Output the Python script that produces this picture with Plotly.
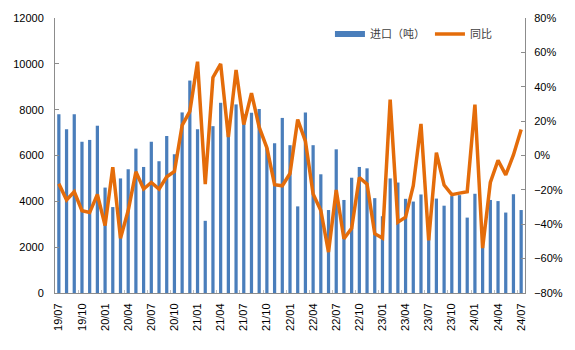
import plotly.graph_objects as go

months = [
    "19/07", "19/08", "19/09", "19/10", "19/11", "19/12",
    "20/01", "20/02", "20/03", "20/04", "20/05", "20/06",
    "20/07", "20/08", "20/09", "20/10", "20/11", "20/12",
    "21/01", "21/02", "21/03", "21/04", "21/05", "21/06",
    "21/07", "21/08", "21/09", "21/10", "21/11", "21/12",
    "22/01", "22/02", "22/03", "22/04", "22/05", "22/06",
    "22/07", "22/08", "22/09", "22/10", "22/11", "22/12",
    "23/01", "23/02", "23/03", "23/04", "23/05", "23/06",
    "23/07", "23/08", "23/09", "23/10", "23/11", "23/12",
    "24/01", "24/02", "24/03", "24/04", "24/05", "24/06",
    "24/07",
]

imports_t = [
    7800, 7150, 7800, 6600, 6680, 7300,
    4600, 3750, 5000, 5400, 6300, 5500,
    6600, 5750, 6850, 6050, 7880, 9270,
    7150, 3150, 7280, 8300, 6950, 8230,
    7800, 7870, 8030, 6320, 6540, 7640,
    6450, 3780, 7880, 6450, 5180, 3620,
    6270, 4060, 5030, 5500, 5440, 4140,
    3350, 5000, 4820, 4110, 3990, 4300,
    3150, 4120, 3810, 4230, 4270, 3290,
    4330, 2300, 4060, 4010, 3510, 4310,
    3620,
]

yoy_pct = [
    -16.5, -25.8, -21.1, -32.1, -33.2, -22.6,
    -40.8, -6.8, -48.2, -32.0, -9.5, -19.5,
    -15.7, -19.5, -12.4, -9.3, 17.5, 25.7,
    54.6, -16.7, 45.4, 53.3, 10.7, 49.8,
    18.0, 36.3, 16.5, 4.5, -17.0, -17.6,
    -10.5, 20.9, 8.4, -22.4, -32.0, -56.2,
    -20.1, -48.4, -42.3, -12.8, -16.7, -45.5,
    -48.0, 32.5, -38.8, -35.9, -17.6, 18.4,
    -49.4, 1.6, -17.2, -22.8, -21.9, -21.1,
    29.6, -53.9, -15.7, -2.8, -11.3, 0.3,
    15.1,
]

x_ticks = months[::3]
left_ticks = [0, 2000, 4000, 6000, 8000, 10000, 12000]

BLUE = "#4A7EBB"
ORANGE = "#E46C0A"
AXIS = "#8C8C8C"
FONT = "Liberation Sans, Arial, Noto Sans CJK SC, sans-serif"

fig = go.Figure()
fig.add_trace(go.Bar(
    x=months, y=imports_t, name="进口（吨）", showlegend=False,
    marker=dict(color=BLUE, line=dict(width=0)), width=0.42,
    yaxis="y",
))
# legend-only entry drawn as a wide thin bar key
fig.add_trace(go.Scatter(
    x=[None], y=[None], mode="lines", name="进口（吨）",
    line=dict(color=BLUE, width=6), yaxis="y",
))
fig.add_trace(go.Scatter(
    x=months, y=[v / 100 for v in yoy_pct], mode="lines", name="同比",
    line=dict(color=ORANGE, width=3.5), yaxis="y2",
))

fig.update_layout(
    width=575, height=350,
    margin=dict(l=55, r=49, t=16, b=57),
    paper_bgcolor="white", plot_bgcolor="white",
    font=dict(family=FONT, size=11, color="#000000"),
    showlegend=True,
    legend=dict(
        orientation="h", x=0.585, xanchor="left", y=0.942, yanchor="middle",
        font=dict(family=FONT, size=11, color="#404040"),
        bgcolor="rgba(0,0,0,0)", itemclick=False, traceorder="normal",
    ),
    xaxis=dict(
        type="category", range=[-0.5, len(months) - 0.5],
        tickmode="array", tickvals=x_ticks, ticktext=x_ticks,
        tickangle=-90, tickson="boundaries", ticks="inside", ticklen=3,
        tickcolor="#C0C0C0", showline=True, linecolor=AXIS, linewidth=1,
        showgrid=False, zeroline=False, tickfont=dict(size=11),
        ticklabelstandoff=5,
    ),
    yaxis=dict(
        range=[0, 12000], tickvals=left_ticks, tickformat="d",
        ticks="inside", ticklen=4,
        tickcolor=AXIS, showline=True, linecolor=AXIS, linewidth=1,
        showgrid=False, zeroline=False, tickfont=dict(size=11),
        ticklabelstandoff=8,
    ),
    yaxis2=dict(
        range=[-0.8, 0.8], dtick=0.2, tick0=-0.8, tickformat=".0%",
        overlaying="y", side="right", ticks="inside", ticklen=4,
        tickcolor=AXIS, showline=True, linecolor=AXIS, linewidth=1,
        showgrid=False, zeroline=False, tickfont=dict(size=11),
        ticklabelstandoff=6,
    ),
    bargap=0.5,
)

fig.write_html("out.html")
